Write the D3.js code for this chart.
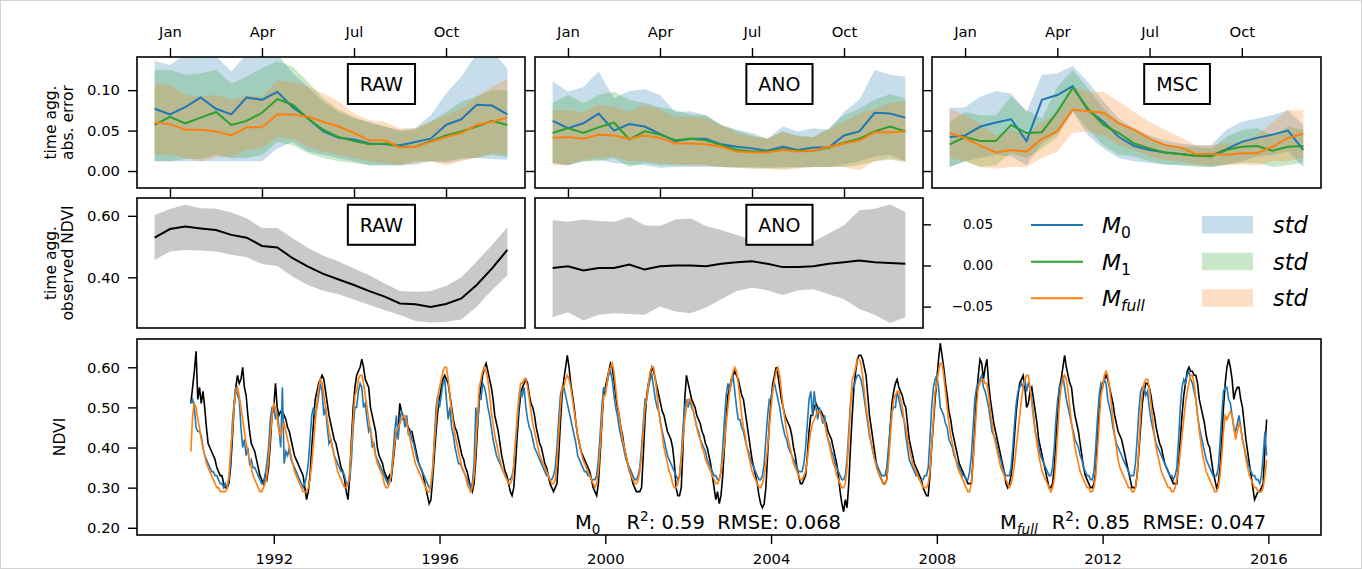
<!DOCTYPE html>
<html><head><meta charset="utf-8">
<script src="https://cdn.jsdelivr.net/npm/d3@7"></script>
<style>body{margin:0;background:#fff} svg text{font-family:"DejaVu Sans",sans-serif}</style>
</head><body><script>
// ---------------- DATA ----------------
const monthLabels = ["Jan","Apr","Jul","Oct"];
const monthTickIndex = [1,7,13,19];
const topYTicks = [0.00,0.05,0.10];
const rawYTicks = [0.40,0.60];
const anoYTicks = [-0.05,0.00,0.05];
const ndviYTicks = [0.20,0.30,0.40,0.50,0.60];
const yearTicks = [1992,1996,2000,2004,2008,2012,2016];
const panelNames = ["RAW","ANO","MSC"];
const startYear = 1990, stepsPerYear = 24;

// time aggregated absolute error (RAW)
const rawM0   = [0.077,0.070,0.079,0.091,0.077,0.070,0.091,0.088,0.098,0.079,0.065,0.049,0.041,0.039,0.034,0.033,0.032,0.036,0.040,0.057,0.064,0.082,0.081,0.070];
const rawM0Lo = [0.012,0.012,0.012,0.012,0.012,0.012,0.012,0.012,0.028,0.036,0.024,0.020,0.016,0.012,0.007,0.007,0.007,0.008,0.012,0.010,0.014,0.016,0.015,0.014];
const rawM0Hi = [0.136,0.131,0.145,0.148,0.142,0.123,0.145,0.150,0.145,0.121,0.104,0.086,0.073,0.065,0.061,0.055,0.051,0.053,0.069,0.096,0.117,0.145,0.148,0.127];
const rawM1   = [0.057,0.067,0.059,0.066,0.073,0.057,0.062,0.072,0.089,0.082,0.065,0.051,0.042,0.037,0.033,0.034,0.030,0.030,0.037,0.044,0.049,0.055,0.062,0.057];
const rawM1Lo = [0.012,0.012,0.015,0.015,0.020,0.016,0.016,0.020,0.036,0.032,0.022,0.016,0.012,0.010,0.007,0.007,0.007,0.012,0.012,0.012,0.016,0.016,0.020,0.017];
const rawM1Hi = [0.125,0.125,0.119,0.121,0.125,0.108,0.117,0.127,0.136,0.129,0.110,0.090,0.076,0.067,0.059,0.055,0.049,0.051,0.061,0.073,0.086,0.092,0.100,0.100];
const rawMf   = [0.060,0.058,0.051,0.051,0.049,0.044,0.054,0.054,0.070,0.070,0.067,0.061,0.055,0.047,0.038,0.038,0.029,0.030,0.036,0.042,0.047,0.057,0.061,0.066];
const rawMfLo = [0.020,0.020,0.016,0.012,0.017,0.018,0.026,0.028,0.042,0.040,0.030,0.024,0.020,0.016,0.012,0.010,0.007,0.010,0.012,0.007,0.012,0.017,0.022,0.020];
const rawMfHi = [0.108,0.106,0.094,0.092,0.094,0.088,0.094,0.092,0.112,0.110,0.104,0.096,0.086,0.071,0.063,0.061,0.053,0.053,0.061,0.069,0.077,0.092,0.104,0.114];
// ANO
const anoM0   = [0.062,0.053,0.059,0.071,0.050,0.058,0.055,0.046,0.037,0.040,0.040,0.033,0.030,0.028,0.025,0.030,0.026,0.029,0.029,0.044,0.049,0.072,0.071,0.066];
const anoM0Lo = [0.010,0.007,0.012,0.014,0.010,0.008,0.007,0.004,0.005,0.005,0.005,0.005,0.005,0.005,0.004,0.005,0.005,0.005,0.005,0.008,0.012,0.018,0.020,0.012];
const anoM0Hi = [0.111,0.098,0.104,0.123,0.090,0.099,0.101,0.094,0.073,0.074,0.069,0.057,0.051,0.047,0.040,0.055,0.049,0.053,0.051,0.073,0.088,0.125,0.119,0.117];
const anoM1   = [0.047,0.053,0.047,0.054,0.060,0.039,0.049,0.045,0.038,0.040,0.038,0.032,0.026,0.024,0.024,0.027,0.025,0.025,0.029,0.035,0.040,0.049,0.055,0.049];
const anoM1Lo = [0.010,0.007,0.012,0.012,0.016,0.005,0.010,0.007,0.007,0.007,0.007,0.005,0.004,0.003,0.003,0.003,0.004,0.005,0.005,0.005,0.007,0.012,0.014,0.011];
const anoM1Hi = [0.084,0.094,0.084,0.094,0.098,0.088,0.084,0.079,0.075,0.070,0.069,0.057,0.050,0.044,0.040,0.049,0.044,0.042,0.053,0.069,0.077,0.088,0.095,0.090];
const anoMf   = [0.041,0.042,0.040,0.045,0.044,0.040,0.044,0.041,0.034,0.034,0.033,0.030,0.024,0.023,0.023,0.026,0.024,0.025,0.030,0.034,0.038,0.048,0.048,0.049];
const anoMfLo = [0.007,0.007,0.014,0.016,0.018,0.012,0.012,0.010,0.008,0.007,0.007,0.005,0.004,0.003,0.003,0.001,0.003,0.005,0.005,0.005,0.001,0.012,0.016,0.012];
const anoMfHi = [0.075,0.075,0.073,0.082,0.079,0.073,0.082,0.076,0.067,0.067,0.065,0.057,0.047,0.042,0.040,0.049,0.042,0.042,0.051,0.061,0.071,0.077,0.084,0.086];
// MSC
const mscM0   = [0.042,0.044,0.055,0.060,0.064,0.037,0.088,0.094,0.105,0.075,0.061,0.042,0.031,0.026,0.023,0.021,0.019,0.019,0.027,0.036,0.041,0.045,0.050,0.026];
const mscM0Lo = [0.005,0.012,0.016,0.020,0.018,0.007,0.034,0.047,0.073,0.044,0.028,0.016,0.012,0.010,0.008,0.007,0.007,0.005,0.008,0.012,0.018,0.020,0.024,0.005];
const mscM0Hi = [0.078,0.079,0.092,0.099,0.096,0.073,0.119,0.121,0.130,0.110,0.086,0.065,0.053,0.044,0.038,0.034,0.032,0.032,0.051,0.061,0.065,0.069,0.075,0.057];
const mscM1   = [0.033,0.042,0.037,0.037,0.057,0.047,0.048,0.073,0.103,0.077,0.057,0.047,0.034,0.028,0.023,0.021,0.019,0.018,0.026,0.030,0.031,0.025,0.030,0.031];
const mscM1Lo = [0.005,0.012,0.005,0.007,0.022,0.016,0.028,0.042,0.075,0.051,0.032,0.020,0.018,0.012,0.008,0.007,0.005,0.005,0.008,0.010,0.010,0.005,0.007,0.010];
const mscM1Hi = [0.061,0.073,0.069,0.069,0.092,0.075,0.065,0.104,0.125,0.102,0.077,0.061,0.049,0.040,0.032,0.030,0.030,0.028,0.042,0.051,0.053,0.044,0.055,0.051];
const mscMf   = [0.047,0.041,0.031,0.023,0.026,0.024,0.040,0.049,0.076,0.074,0.072,0.059,0.051,0.040,0.032,0.029,0.021,0.021,0.020,0.022,0.022,0.030,0.041,0.046];
const mscMfLo = [0.016,0.012,0.005,0.003,0.005,0.005,0.016,0.024,0.047,0.049,0.044,0.032,0.026,0.018,0.014,0.012,0.008,0.007,0.007,0.008,0.007,0.012,0.012,0.016];
const mscMfHi = [0.077,0.069,0.057,0.044,0.051,0.044,0.061,0.071,0.104,0.098,0.098,0.086,0.073,0.061,0.051,0.042,0.032,0.032,0.034,0.036,0.044,0.061,0.075,0.075];

// time aggregated observed NDVI
const rawObs   = [0.529,0.557,0.565,0.559,0.554,0.538,0.529,0.502,0.497,0.462,0.435,0.411,0.393,0.375,0.355,0.337,0.315,0.312,0.303,0.313,0.331,0.375,0.429,0.489];
const rawObsHi = [0.603,0.622,0.636,0.625,0.623,0.611,0.592,0.560,0.560,0.527,0.495,0.470,0.451,0.429,0.407,0.380,0.355,0.353,0.355,0.372,0.400,0.451,0.505,0.563];
const rawObsLo = [0.456,0.484,0.489,0.487,0.484,0.473,0.465,0.443,0.437,0.402,0.375,0.356,0.345,0.328,0.310,0.293,0.277,0.258,0.253,0.255,0.263,0.304,0.359,0.407];
const anoObs   = [-0.003,-0.001,-0.006,-0.003,-0.003,0.001,-0.005,-0.001,0.000,0.000,-0.001,0.002,0.004,0.005,0.002,-0.002,-0.002,-0.001,0.002,0.004,0.006,0.004,0.003,0.002];
const anoObsHi = [0.055,0.053,0.056,0.054,0.053,0.059,0.049,0.048,0.056,0.057,0.048,0.043,0.037,0.031,0.029,0.027,0.027,0.029,0.039,0.049,0.067,0.069,0.074,0.065];
const anoObsLo = [-0.063,-0.057,-0.067,-0.060,-0.058,-0.059,-0.060,-0.050,-0.056,-0.058,-0.051,-0.041,-0.031,-0.027,-0.030,-0.036,-0.030,-0.029,-0.035,-0.041,-0.053,-0.060,-0.070,-0.063];

// NDVI time series 1990-2015, 24 values per year
const ndviObs = [
.51,.55,.59,.64,.52,.55,.51,.54,.50,.45,.41,.40,.39,.38,.37,.35,.34,.33,.33,.31,.30,.30,.31,.35,
.42,.50,.55,.58,.56,.57,.60,.55,.53,.48,.44,.41,.40,.39,.37,.35,.33,.32,.31,.33,.32,.35,.41,.48,
.50,.56,.50,.48,.49,.49,.48,.47,.45,.44,.42,.40,.38,.37,.36,.35,.34,.33,.30,.27,.29,.33,.40,.46,
.52,.54,.56,.57,.58,.57,.54,.51,.48,.46,.44,.42,.41,.39,.37,.35,.34,.32,.29,.27,.33,.42,.50,.55,
.58,.59,.60,.62,.60,.57,.56,.55,.50,.48,.46,.44,.40,.38,.37,.36,.34,.33,.32,.33,.32,.36,.40,.44,
.44,.51,.49,.47,.47,.46,.45,.44,.44,.42,.40,.38,.36,.35,.34,.32,.30,.28,.26,.27,.32,.38,.44,.49,
.52,.55,.57,.58,.57,.56,.53,.50,.47,.45,.44,.42,.40,.38,.37,.35,.34,.32,.30,.29,.31,.37,.45,.52,
.55,.58,.60,.61,.59,.57,.55,.52,.48,.46,.44,.41,.38,.36,.34,.33,.31,.29,.28,.30,.36,.43,.49,.53,
.55,.56,.57,.56,.53,.51,.50,.48,.45,.43,.41,.40,.38,.36,.35,.33,.31,.30,.29,.30,.31,.38,.46,.53,
.57,.60,.63,.60,.56,.53,.50,.46,.43,.41,.39,.38,.37,.36,.35,.34,.32,.30,.29,.28,.31,.38,.46,.53,
.55,.57,.59,.61,.60,.57,.53,.50,.48,.45,.43,.40,.38,.36,.34,.33,.31,.30,.29,.29,.29,.30,.38,.47,
.53,.56,.58,.60,.59,.57,.55,.53,.51,.49,.48,.46,.44,.43,.42,.40,.36,.30,.28,.28,.30,.40,.52,.58,
.56,.54,.52,.51,.50,.48,.47,.46,.44,.43,.41,.40,.38,.36,.33,.30,.27,.29,.26,.28,.33,.40,.47,.53,
.55,.57,.58,.59,.58,.57,.55,.53,.52,.49,.46,.43,.40,.37,.35,.33,.31,.28,.26,.25,.26,.30,.38,.46,
.52,.56,.58,.60,.58,.55,.52,.50,.48,.47,.46,.45,.43,.40,.38,.35,.33,.31,.31,.32,.33,.38,.44,.48,
.48,.50,.51,.50,.49,.49,.48,.47,.46,.44,.43,.42,.40,.38,.36,.33,.29,.26,.24,.27,.25,.31,.40,.48,
.55,.59,.62,.63,.63,.62,.60,.58,.53,.48,.45,.42,.39,.36,.34,.33,.32,.31,.31,.32,.38,.45,.51,.54,
.56,.57,.55,.54,.53,.51,.50,.46,.42,.40,.38,.36,.35,.34,.33,.32,.30,.29,.28,.28,.33,.40,.46,.52,
.57,.62,.66,.63,.60,.56,.53,.49,.47,.44,.42,.40,.38,.36,.35,.34,.33,.32,.31,.31,.31,.37,.45,.53,
.58,.62,.61,.57,.60,.62,.56,.52,.49,.46,.44,.42,.40,.38,.36,.34,.31,.30,.31,.33,.37,.43,.49,.53,
.56,.57,.58,.55,.50,.51,.54,.55,.52,.49,.46,.42,.40,.38,.36,.34,.32,.30,.30,.31,.35,.42,.49,.55,
.57,.60,.63,.60,.58,.56,.55,.51,.48,.46,.44,.41,.38,.35,.33,.32,.31,.30,.30,.31,.34,.42,.49,.54,
.56,.57,.58,.57,.55,.53,.51,.48,.46,.44,.43,.42,.40,.38,.36,.34,.32,.30,.30,.30,.33,.39,.45,.51,
.54,.56,.56,.55,.53,.50,.48,.45,.43,.41,.40,.38,.36,.35,.34,.33,.32,.31,.31,.31,.36,.42,.48,.53,
.56,.59,.60,.59,.59,.58,.58,.56,.52,.50,.48,.46,.43,.41,.40,.37,.34,.32,.30,.31,.35,.42,.50,.56,
.60,.62,.60,.57,.52,.54,.55,.55,.52,.50,.46,.42,.39,.36,.33,.30,.27,.28,.29,.29,.30,.31,.40,.47];
const ndviM0 = [
.51,.52,.50,.45,.44,.44,.43,.40,.38,.37,.36,.35,.34,.34,.33,.33,.32,.31,.31,.30,.31,.30,.32,.36,
.46,.51,.55,.53,.52,.45,.40,.42,.38,.40,.36,.37,.35,.35,.34,.33,.32,.31,.31,.33,.36,.40,.47,.50,
.50,.47,.49,.45,.40,.55,.36,.39,.38,.40,.37,.36,.35,.34,.33,.32,.31,.30,.31,.33,.36,.42,.48,.50,
.48,.50,.53,.56,.54,.48,.50,.45,.41,.42,.40,.38,.37,.36,.35,.34,.34,.33,.31,.31,.32,.37,.45,.50,
.50,.54,.56,.55,.50,.51,.47,.44,.45,.40,.41,.38,.37,.36,.35,.34,.33,.32,.31,.32,.33,.38,.44,.48,
.42,.47,.49,.48,.45,.48,.43,.44,.42,.41,.39,.37,.36,.35,.34,.33,.32,.31,.30,.30,.34,.42,.50,.53,
.50,.53,.56,.57,.52,.47,.50,.45,.43,.40,.38,.36,.36,.35,.34,.33,.32,.31,.30,.31,.36,.50,.45,.52,
.52,.56,.55,.53,.50,.48,.45,.42,.40,.38,.37,.36,.35,.34,.33,.32,.32,.32,.33,.35,.41,.46,.51,.54,
.53,.55,.50,.47,.45,.44,.42,.40,.39,.38,.37,.36,.35,.34,.33,.33,.32,.32,.33,.35,.40,.47,.53,.55,
.55,.53,.51,.49,.47,.45,.43,.41,.38,.37,.36,.35,.34,.34,.33,.33,.32,.32,.32,.33,.37,.43,.50,.55,
.54,.56,.58,.59,.57,.53,.50,.48,.45,.43,.41,.39,.37,.36,.35,.34,.33,.32,.32,.33,.35,.40,.46,.52,
.52,.55,.57,.58,.55,.52,.50,.49,.46,.44,.42,.40,.38,.37,.36,.35,.34,.33,.32,.33,.38,.45,.50,.52,
.50,.52,.50,.49,.47,.45,.44,.42,.41,.40,.39,.37,.36,.35,.34,.33,.33,.32,.32,.34,.40,.47,.53,.56,
.54,.56,.58,.54,.50,.47,.47,.45,.44,.42,.40,.39,.37,.36,.35,.34,.33,.32,.32,.33,.36,.42,.48,.52,
.52,.55,.56,.54,.52,.50,.47,.45,.43,.42,.40,.39,.38,.37,.36,.35,.34,.34,.34,.36,.40,.46,.52,.54,
.48,.54,.50,.47,.50,.48,.46,.48,.44,.42,.41,.39,.38,.36,.35,.34,.33,.32,.32,.33,.37,.44,.51,.55,
.55,.57,.58,.58,.57,.55,.52,.49,.46,.43,.41,.39,.37,.36,.35,.34,.33,.33,.33,.35,.40,.45,.49,.50,
.50,.54,.52,.50,.48,.47,.43,.40,.37,.36,.35,.34,.33,.33,.32,.32,.32,.33,.33,.35,.42,.50,.55,.57,
.58,.55,.50,.49,.48,.46,.45,.42,.41,.40,.38,.37,.36,.35,.34,.33,.33,.32,.32,.34,.38,.45,.52,.55,
.56,.57,.58,.55,.54,.52,.50,.47,.44,.43,.42,.40,.38,.37,.35,.34,.33,.33,.33,.35,.40,.46,.51,.54,
.55,.56,.55,.57,.54,.56,.55,.52,.48,.44,.42,.40,.38,.37,.36,.35,.34,.33,.33,.35,.40,.47,.52,.55,
.56,.58,.55,.52,.50,.48,.46,.44,.42,.41,.40,.38,.37,.35,.34,.33,.33,.32,.32,.34,.40,.47,.53,.56,
.55,.57,.56,.52,.50,.48,.45,.43,.41,.40,.39,.38,.37,.36,.35,.34,.33,.33,.33,.36,.42,.49,.54,.55,
.55,.53,.54,.50,.47,.45,.43,.41,.40,.39,.38,.37,.36,.35,.34,.33,.33,.32,.33,.35,.42,.50,.55,.57,
.56,.58,.59,.57,.56,.54,.52,.48,.45,.43,.41,.39,.37,.36,.35,.34,.33,.33,.33,.35,.41,.48,.54,.55,
.55,.52,.51,.48,.45,.44,.46,.48,.45,.42,.40,.38,.36,.35,.34,.33,.33,.32,.32,.31,.33,.38,.44,.38];
const ndviMfull = [
.39,.48,.51,.50,.47,.45,.42,.40,.38,.36,.35,.34,.33,.32,.31,.30,.30,.29,.29,.29,.29,.30,.33,.39,
.44,.50,.54,.55,.53,.50,.47,.44,.41,.39,.37,.35,.33,.32,.31,.30,.29,.29,.30,.31,.33,.37,.43,.48,
.51,.50,.47,.44,.43,.45,.46,.44,.42,.40,.38,.36,.34,.33,.32,.31,.30,.29,.29,.29,.30,.32,.36,.41,
.46,.51,.55,.57,.56,.53,.50,.47,.44,.42,.40,.38,.36,.34,.33,.32,.31,.30,.30,.31,.34,.40,.47,.53,
.54,.57,.58,.58,.56,.53,.50,.47,.44,.42,.40,.38,.36,.35,.34,.33,.31,.30,.30,.31,.33,.37,.41,.44,
.45,.46,.47,.48,.48,.46,.44,.42,.40,.38,.36,.35,.34,.33,.32,.31,.30,.29,.29,.31,.35,.41,.47,.53,
.55,.57,.59,.60,.60,.57,.53,.49,.46,.43,.41,.39,.37,.35,.34,.33,.31,.30,.29,.30,.33,.40,.48,.55,
.57,.59,.60,.59,.57,.53,.49,.46,.43,.41,.39,.37,.35,.34,.33,.32,.31,.31,.32,.36,.42,.48,.53,.56,
.56,.57,.57,.55,.52,.49,.46,.44,.42,.40,.38,.37,.36,.35,.34,.33,.32,.31,.31,.32,.36,.43,.50,.55,
.55,.57,.58,.57,.55,.52,.49,.46,.43,.41,.39,.37,.36,.35,.34,.33,.32,.31,.30,.31,.34,.40,.47,.53,
.53,.56,.59,.60,.61,.59,.55,.51,.48,.45,.42,.40,.38,.36,.34,.33,.32,.31,.31,.32,.34,.38,.44,.50,
.52,.56,.59,.60,.60,.57,.53,.49,.46,.43,.40,.38,.36,.34,.33,.31,.30,.30,.31,.33,.37,.42,.47,.50,
.52,.52,.51,.49,.47,.45,.43,.42,.40,.39,.37,.36,.35,.34,.33,.32,.31,.31,.32,.34,.37,.41,.46,.50,
.54,.57,.59,.60,.59,.56,.52,.48,.45,.43,.40,.38,.36,.34,.33,.32,.31,.30,.30,.31,.33,.36,.40,.45,
.50,.54,.57,.59,.60,.58,.54,.50,.47,.44,.42,.40,.38,.36,.35,.34,.33,.32,.32,.33,.34,.37,.41,.44,
.46,.47,.48,.49,.49,.48,.47,.46,.44,.42,.40,.38,.36,.35,.33,.32,.31,.30,.30,.31,.35,.42,.50,.57,
.58,.60,.62,.62,.61,.58,.54,.50,.47,.44,.41,.39,.37,.35,.34,.33,.32,.31,.31,.32,.36,.42,.48,.52,
.53,.54,.54,.52,.50,.47,.45,.42,.40,.38,.36,.35,.34,.33,.32,.31,.30,.30,.30,.31,.34,.40,.47,.54,
.56,.59,.61,.61,.58,.54,.50,.46,.43,.41,.39,.37,.35,.34,.33,.32,.31,.30,.29,.29,.31,.36,.43,.50,
.55,.56,.57,.57,.56,.56,.53,.49,.46,.43,.41,.39,.37,.35,.34,.33,.32,.31,.30,.31,.33,.36,.40,.44,
.48,.52,.55,.57,.58,.58,.55,.51,.47,.44,.41,.38,.36,.34,.33,.32,.31,.30,.29,.30,.32,.37,.44,.51,
.55,.57,.58,.57,.54,.50,.46,.43,.40,.38,.36,.34,.33,.32,.31,.30,.30,.29,.29,.30,.33,.39,.46,.53,
.55,.58,.59,.58,.55,.51,.47,.43,.40,.37,.35,.34,.33,.32,.31,.30,.30,.29,.29,.30,.33,.40,.48,.54,
.56,.57,.57,.55,.51,.47,.43,.40,.38,.36,.34,.33,.32,.31,.30,.30,.29,.29,.30,.32,.35,.39,.43,.47,
.51,.54,.56,.58,.58,.56,.52,.48,.44,.41,.38,.36,.34,.33,.32,.31,.30,.29,.29,.30,.33,.38,.44,.48,
.47,.48,.49,.48,.45,.42,.44,.46,.45,.42,.40,.37,.35,.33,.32,.31,.30,.30,.29,.29,.29,.30,.33,.37];

// ---------------- DRAWING ----------------
const FONT = "DejaVu Sans";
const TICK_FS = 14.8, LABEL_FS = 15.5;
const COL = {m0:"#1f77b4", m1:"#2ca02c", mf:"#ff7f0e"};
const svg = d3.select("body").append("svg").attr("width",1362).attr("height",569)
  .attr("font-family",FONT);
svg.append("rect").attr("x",0.5).attr("y",0.5).attr("width",1361).attr("height",568)
  .attr("fill","#fff").attr("stroke","#d2d2d2");
const defs = svg.append("defs");
let clipN = 0;
function makePanel(x0,x1,y0,y1){
  const id = "clip"+(clipN++);
  defs.append("clipPath").attr("id",id).append("rect")
    .attr("x",x0).attr("y",y0).attr("width",x1-x0).attr("height",y1-y0);
  const g = svg.append("g");
  const plot = g.append("g").attr("clip-path",`url(#${id})`);
  return {g, plot, x0, x1, y0, y1};
}
function frame(p){
  p.g.append("rect").attr("x",p.x0).attr("y",p.y0).attr("width",p.x1-p.x0).attr("height",p.y1-p.y0)
    .attr("fill","none").attr("stroke","#000").attr("stroke-width",1.6);
}
function styleAxis(sel, fs){
  sel.attr("font-family",FONT).attr("font-size",fs||TICK_FS);
  sel.select(".domain").remove();
  sel.selectAll(".tick line").attr("stroke","#000").attr("stroke-width",1.4);
  sel.selectAll(".tick text").attr("fill","#000").attr("font-size",fs||TICK_FS).attr("font-family",FONT);
  return sel;
}
function labelBox(p, txt){
  const cx = p.x0 + 0.63*(p.x1-p.x0), cy = p.y0 + 0.206*(p.y1-p.y0);
  const t = p.g.append("text").attr("x",cx).attr("y",cy).attr("text-anchor","middle")
    .attr("dominant-baseline","central").attr("font-size",19).attr("fill","#000").text(txt);
  const w = t.node().getComputedTextLength() + 24;
  p.g.insert("rect", () => t.node()).attr("x",cx-w/2).attr("y",cy-20).attr("width",w).attr("height",40)
    .attr("fill","#fff").attr("stroke","#000").attr("stroke-width",2);
}
const idx24 = d3.range(24);
const xSeason = (x0,x1) => d3.scaleLinear().domain([-1.15,24.15]).range([x0,x1]);

// ---- top row: time aggregated abs error ----
const TOP = [57,188];
const topCfg = [
  {x0:137, x1:525, s:[[rawM0,rawM0Lo,rawM0Hi,"m0"],[rawM1,rawM1Lo,rawM1Hi,"m1"],[rawMf,rawMfLo,rawMfHi,"mf"]]},
  {x0:535, x1:923, s:[[anoM0,anoM0Lo,anoM0Hi,"m0"],[anoM1,anoM1Lo,anoM1Hi,"m1"],[anoMf,anoMfLo,anoMfHi,"mf"]]},
  {x0:932, x1:1321, s:[[mscM0,mscM0Lo,mscM0Hi,"m0"],[mscM1,mscM1Lo,mscM1Hi,"m1"],[mscMf,mscMfLo,mscMfHi,"mf"]]}
];
topCfg.forEach((cfg,j)=>{
  const p = makePanel(cfg.x0,cfg.x1,TOP[0],TOP[1]);
  const x = xSeason(cfg.x0,cfg.x1);
  const y = d3.scaleLinear().domain([-0.021,0.141]).range([TOP[1],TOP[0]]);
  cfg.s.forEach(([v,lo,hi,k])=>{
    p.plot.append("path").datum(idx24)
      .attr("d", d3.area().x(i=>x(i)).y0(i=>y(lo[i])).y1(i=>y(hi[i])))
      .attr("fill",COL[k]).attr("fill-opacity",0.25).attr("stroke","none");
  });
  cfg.s.forEach(([v,lo,hi,k])=>{
    p.plot.append("path").datum(idx24)
      .attr("d", d3.line().x(i=>x(i)).y(i=>y(v[i])))
      .attr("fill","none").attr("stroke",COL[k]).attr("stroke-width",2);
  });
  styleAxis(p.g.append("g").attr("transform",`translate(0,${TOP[0]})`)
    .call(d3.axisTop(x).tickValues(monthTickIndex).tickFormat((d,i)=>monthLabels[i]).tickSize(9).tickPadding(11)));
  styleAxis(p.g.append("g").attr("transform",`translate(${cfg.x0},0)`)
    .call(d3.axisLeft(y).tickValues(topYTicks).tickFormat(j===0 ? d3.format(".2f") : ()=>"").tickSize(9).tickPadding(8)));
  frame(p);
  labelBox(p, panelNames[j]);
});

// ---- middle row: observed NDVI ----
const MID = [198,328];
{
  const p = makePanel(137,525,MID[0],MID[1]);
  const x = xSeason(137,525);
  const y = d3.scaleLinear().domain([0.235,0.658]).range([MID[1],MID[0]]);
  p.plot.append("path").datum(idx24)
    .attr("d", d3.area().x(i=>x(i)).y0(i=>y(rawObsLo[i])).y1(i=>y(rawObsHi[i])))
    .attr("fill","#c9c9c9");
  p.plot.append("path").datum(idx24)
    .attr("d", d3.line().x(i=>x(i)).y(i=>y(rawObs[i])))
    .attr("fill","none").attr("stroke","#000").attr("stroke-width",2);
  styleAxis(p.g.append("g").attr("transform",`translate(0,${MID[0]})`)
    .call(d3.axisTop(x).tickValues(monthTickIndex).tickFormat(()=>"").tickSize(9)));
  styleAxis(p.g.append("g").attr("transform",`translate(137,0)`)
    .call(d3.axisLeft(y).tickValues(rawYTicks).tickFormat(d3.format(".2f")).tickSize(9).tickPadding(8)));
  frame(p);
  labelBox(p, panelNames[0]);
}
{
  const p = makePanel(535,923,MID[0],MID[1]);
  const x = xSeason(535,923);
  const y = d3.scaleLinear().domain([-0.076,0.082]).range([MID[1],MID[0]]);
  p.plot.append("path").datum(idx24)
    .attr("d", d3.area().x(i=>x(i)).y0(i=>y(anoObsLo[i])).y1(i=>y(anoObsHi[i])))
    .attr("fill","#c9c9c9");
  p.plot.append("path").datum(idx24)
    .attr("d", d3.line().x(i=>x(i)).y(i=>y(anoObs[i])))
    .attr("fill","none").attr("stroke","#000").attr("stroke-width",2);
  styleAxis(p.g.append("g").attr("transform",`translate(0,${MID[0]})`)
    .call(d3.axisTop(x).tickValues(monthTickIndex).tickFormat(()=>"").tickSize(9)));
  styleAxis(p.g.append("g").attr("transform",`translate(923,0)`)
    .call(d3.axisRight(y).tickValues(anoYTicks).tickFormat(()=>"").tickSize(8)));
  const fmt = d3.format(".2f");
  p.g.selectAll("text.rlab").data(anoYTicks).enter().append("text").attr("class","rlab")
    .attr("x",993).attr("y",d=>y(d)).attr("dy","0.35em").attr("text-anchor","end")
    .attr("font-size",13.5).attr("fill","#000").text(d=>fmt(d));
  frame(p);
  labelBox(p, panelNames[1]);
}

// ---- legend ----
{
  const g = svg.append("g");
  const keys = ["m0","m1","mf"];
  const subs = ["0","1","full"];
  const ys = [225,261.7,298.3];
  keys.forEach((k,i)=>{
    g.append("line").attr("x1",1031).attr("x2",1083).attr("y1",ys[i]).attr("y2",ys[i])
      .attr("stroke",COL[k]).attr("stroke-width",2);
    const t = g.append("text").attr("x",1102).attr("y",ys[i]+8).attr("font-size",22).attr("fill","#000");
    t.append("tspan").attr("font-style","italic").text("M");
    t.append("tspan").attr("font-size",15.5).attr("dy",5)
      .attr("font-style", subs[i]==="full" ? "italic" : "normal").text(subs[i]);
    g.append("rect").attr("x",1202).attr("y",ys[i]-9).attr("width",51).attr("height",17.5)
      .attr("fill",COL[k]).attr("fill-opacity",0.25);
    g.append("text").attr("x",1273).attr("y",ys[i]+8).attr("font-size",22.5).attr("font-style","italic")
      .attr("fill","#000").text("std");
  });
}

// ---- bottom: NDVI time series ----
const BOT = [339,535];
{
  const p = makePanel(137,1321,BOT[0],BOT[1]);
  const x = d3.scaleLinear().domain([1988.7,2017.27]).range([137,1321]);
  const y = d3.scaleLinear().domain([0.182,0.6705]).range([BOT[1],BOT[0]]);
  const line = arr => d3.line().x((d,i)=>x(startYear + i/stepsPerYear)).y(d=>y(d))(arr);
  p.plot.append("path").attr("d",line(ndviObs)).attr("fill","none").attr("stroke","#000").attr("stroke-width",1.6);
  p.plot.append("path").attr("d",line(ndviM0)).attr("fill","none").attr("stroke",COL.m0).attr("stroke-width",1.6);
  p.plot.append("path").attr("d",line(ndviMfull)).attr("fill","none").attr("stroke",COL.mf).attr("stroke-width",1.6);
  styleAxis(p.g.append("g").attr("transform",`translate(0,${BOT[1]})`)
    .call(d3.axisBottom(x).tickValues(yearTicks).tickFormat(d3.format("d")).tickSize(9).tickPadding(9)));
  styleAxis(p.g.append("g").attr("transform",`translate(137,0)`)
    .call(d3.axisLeft(y).tickValues(ndviYTicks).tickFormat(d3.format(".2f")).tickSize(9).tickPadding(8)));
  frame(p);
  const ann = (xp, sub, subItalic, r2, rmse, gap) => {
    const t = p.g.append("text").attr("x",xp).attr("y",529).attr("font-size",19.5).attr("fill","#000");
    t.append("tspan").text("M");
    t.append("tspan").attr("font-size",13.6).attr("dy",4.5).attr("font-style",subItalic?"italic":"normal").text(sub);
    t.append("tspan").attr("dy",-4.5).attr("dx",gap).text("R");
    t.append("tspan").attr("font-size",13.6).attr("dy",-8).text("2");
    t.append("tspan").attr("dy",8).text(": " + r2);
    t.append("tspan").attr("dx",12.4).text("RMSE: " + rmse);
  };
  ann(575, "0", false, "0.59", "0.068", 26);
  ann(1000, "full", true, "0.85", "0.047", 14);
}

// ---- y labels ----
function ylab(cy, lines){
  const xs = lines.length===1 ? [65] : [56,73];
  lines.forEach((s,i)=>{
    svg.append("text").attr("transform",`translate(${xs[i]},${cy}) rotate(-90)`)
      .attr("text-anchor","middle").attr("font-size",LABEL_FS).attr("fill","#000").text(s);
  });
}
ylab(122.5, ["time agg.","abs. error"]);
ylab(263, ["time agg.","observed NDVI"]);
ylab(437, ["NDVI"]);
</script></body></html>
